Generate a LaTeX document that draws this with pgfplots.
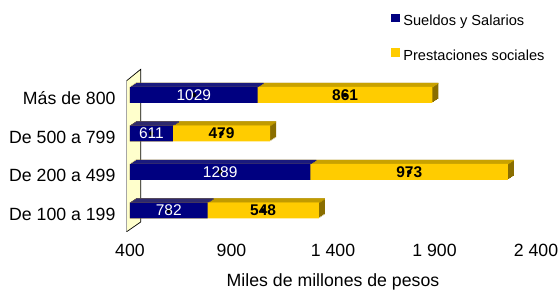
\documentclass[border=0pt]{standalone}
\usepackage{fontspec}
\setmainfont{Liberation Sans}
\usepackage{pgfplots}
\usepackage{pgfplotstable}
\pgfplotsset{compat=1.18}
\definecolor{navyc}{HTML}{000080}
\definecolor{yel}{HTML}{FFCC00}
\definecolor{yeltop}{HTML}{C9A200}
\definecolor{yelside}{HTML}{8A6E00}
\definecolor{navytop}{HTML}{1A1A7E}
\definecolor{wallc}{HTML}{FFFFCC}

\pgfplotstableread{
cat s p
0 782 548
1 1289 973
2 611 479
3 1029 861
}\datatable

\begin{document}
\begin{tikzpicture}
\begin{axis}[
  at={(0,0)}, anchor=south west,
  scale only axis, width=406pt, height=154pt,
  xmin=400, xmax=2400, ymin=-0.5, ymax=3.5,
  clip mode=individual,
  axis x line*=bottom, axis y line*=left,
  axis line style={draw=none},
  tick style={draw=none},
  xtick={400,900,1400,1900,2400},
  xticklabels={400,900,1 400,1 900,2 400},
  ytick={0,1,2,3},
  yticklabels={De 100 a 199,De 200 a 499,De 500 a 799,Más de 800},
  xticklabel style={font=\fontsize{17.7}{20}\selectfont, anchor=base, yshift=-27.25pt},
  yticklabel style={font=\fontsize{17.7}{20}\selectfont, anchor=base east, xshift=-11pt, yshift=-10pt},
  xlabel={Miles de millones de pesos},
  xlabel style={at={(axis description cs:0.5,0)}, anchor=base, yshift=-57.25pt, font=\fontsize{17.7}{20}\selectfont},
  legend style={at={(axis description cs:0.6429,1.401)}, anchor=north west, draw=none, fill=none,
    inner sep=0pt, outer sep=0pt, row sep=19.7pt, column sep=3.3pt,
    font=\fontsize{14.6}{16}\selectfont,
    nodes={inner sep=0pt, text height=11pt, text depth=3pt}},
  legend cell align=left,
  legend image code/.code={\fill[#1] (0pt,-0.7pt) rectangle (9pt,7.7pt);},
]
\addlegendimage{fill=navyc, draw=none}
\addlegendentry{Sueldos y Salarios}
\addlegendimage{fill=yel, draw=none}
\addlegendentry{Prestaciones sociales}

% back wall
\path (axis description cs:0,0) coordinate (O);
\fill[wallc] ([shift={(-3.3pt,-1.95pt)}]O) -- ([shift={(-3.3pt,149.05pt)}]O)
  -- ([shift={(10.7pt,160.45pt)}]O) -- ([shift={(10.7pt,7.75pt)}]O) -- cycle;
\draw[black!35, line width=1.5pt] ([shift={(-3.3pt,-1.95pt)}]O) -- ([shift={(-3.3pt,149.05pt)}]O);
\draw[black, line width=0.7pt] ([shift={(-3.3pt,149.05pt)}]O) -- ([shift={(10.7pt,160.45pt)}]O)
  -- ([shift={(10.7pt,7.75pt)}]O) -- ([shift={(-3.3pt,-1.95pt)}]O);

% side faces (extrusion)
\pgfplotsinvokeforeach{1,2,3,4}{
\addplot[xbar, bar width=16pt, bar shift=0pt, fill=yelside, draw=none, forget plot,
  xshift={#1*1.5pt}, yshift={#1*1pt}]
  table[x expr=\thisrow{s}+\thisrow{p}, y=cat]{\datatable};
}
% top faces
\pgfplotsinvokeforeach{1,2,3,4}{
\addplot[xbar, bar width=1.2pt, bar shift=0pt, fill=yeltop, draw=none, forget plot,
  xshift={#1*1.5pt}, yshift={7.5pt+#1*1pt}]
  table[x expr=\thisrow{s}+\thisrow{p}, y=cat]{\datatable};
}
\pgfplotsinvokeforeach{1,2,3,4}{
\addplot[xbar, bar width=1.2pt, bar shift=0pt, fill=navytop, draw=none, forget plot,
  xshift={#1*1.5pt}, yshift={7.5pt+#1*1pt}]
  table[x=s, y=cat]{\datatable};
}
% front faces
\addplot[xbar, bar width=16pt, bar shift=0pt, fill=yel, draw=none, forget plot]
  table[x expr=\thisrow{s}+\thisrow{p}, y=cat]{\datatable};
\addplot[xbar, bar width=16pt, bar shift=0pt, fill=navyc, draw=none, forget plot]
  table[x=s, y=cat]{\datatable};

% value labels
\addplot[only marks, mark=*, mark options={draw=none, fill=none}, forget plot,
  point meta=explicit symbolic, nodes near coords,
  every node near coord/.append style={anchor=center, text=white, inner sep=0pt,
    font=\fontsize{15.5}{16}\selectfont}]
  table[x expr=(400+\thisrow{s})/2, y=cat, meta=s]{\datatable};
\addplot[only marks, mark=*, mark options={draw=none, fill=none}, forget plot,
  point meta=explicit symbolic, nodes near coords,
  every node near coord/.append style={anchor=center, text=black, inner sep=0pt,
    font=\bfseries\fontsize{15.5}{16}\selectfont}]
  table[x expr=\thisrow{s}+\thisrow{p}/2, y=cat, meta=p]{\datatable};
\end{axis}
\pgfresetboundingbox
\useasboundingbox (-130pt,-61.25pt) rectangle (430pt,229.75pt);
\end{tikzpicture}
\end{document}
